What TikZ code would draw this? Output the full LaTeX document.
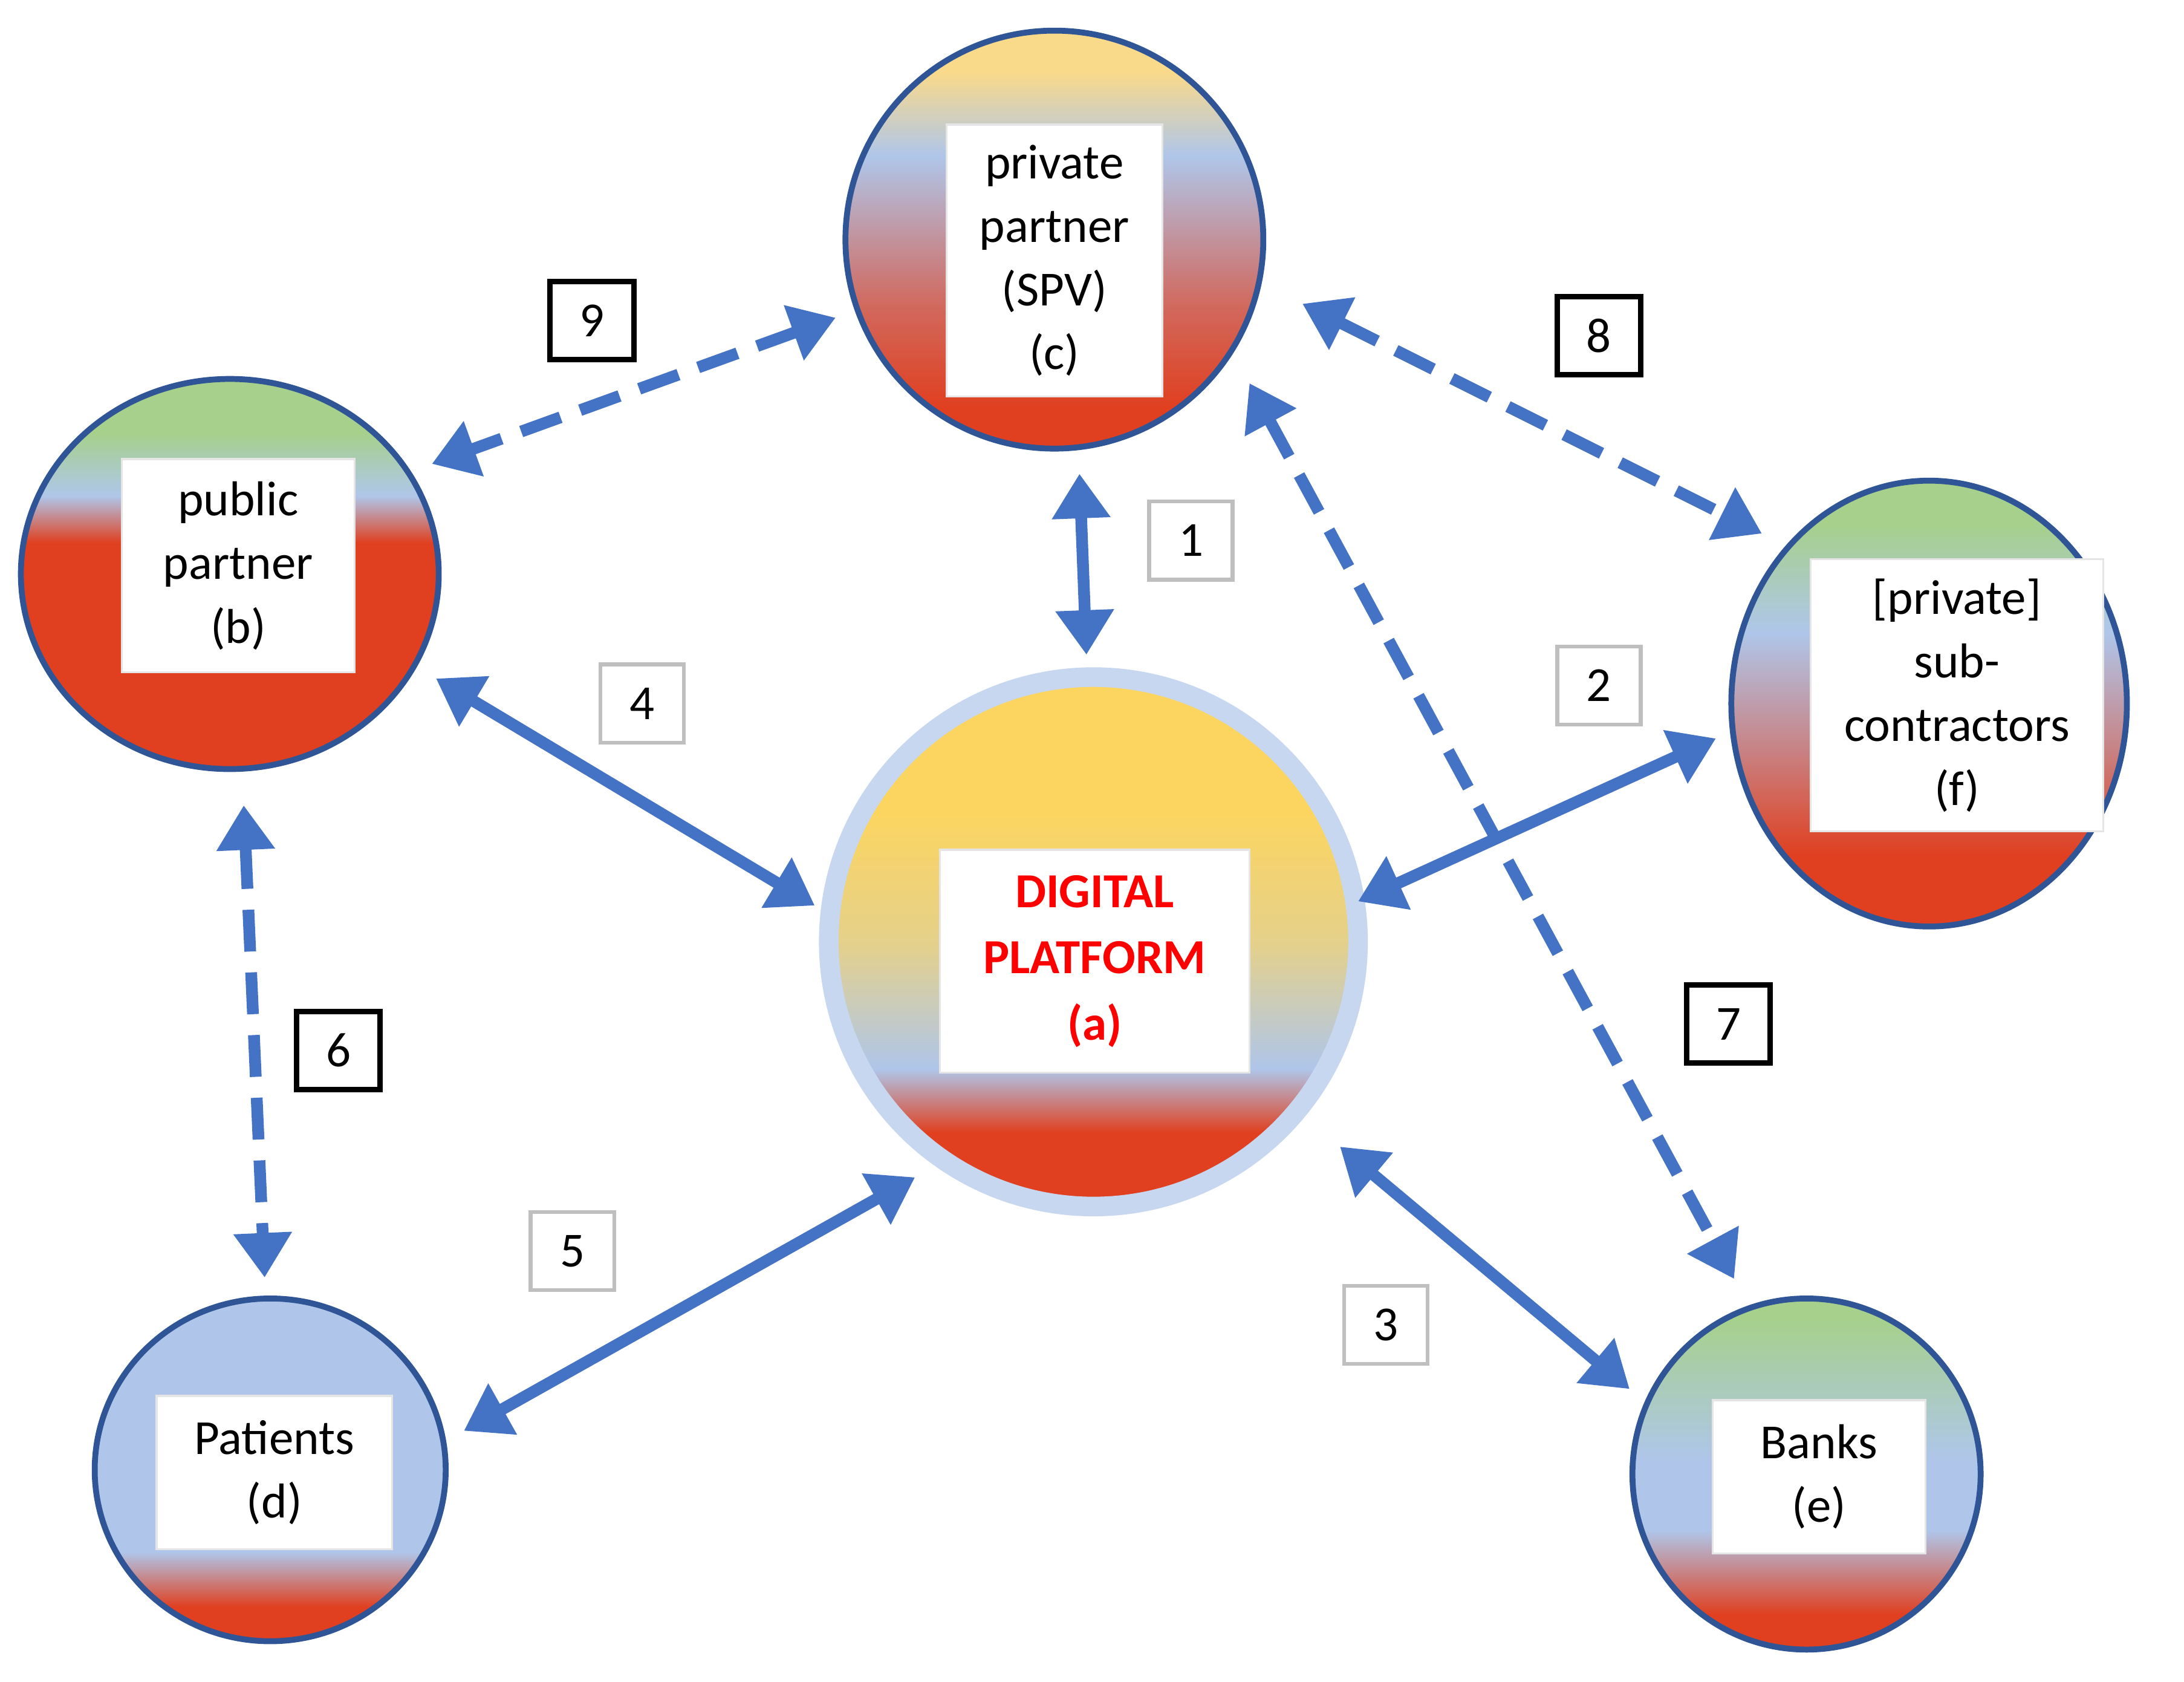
\documentclass[tikz,border=0pt]{standalone}
\usepackage{fontspec}
\setmainfont{Carlito}
\usetikzlibrary{arrows.meta}
\definecolor{yel}{HTML}{F9D98A}
\definecolor{yel2}{HTML}{FCD561}
\definecolor{lb}{HTML}{AFC6EA}
\definecolor{rd}{HTML}{E04020}
\definecolor{gr}{HTML}{A6D08C}
\definecolor{ab}{HTML}{4472C4}
\definecolor{bd}{HTML}{2F5597}
\pgfdeclareverticalshading{shc}{100bp}{color(0bp)=(rd);color(30bp)=(rd);color(42bp)=(rd!70!lb);color(60bp)=(lb);color(70bp)=(yel);color(100bp)=(yel)}
\pgfdeclareverticalshading{shb}{100bp}{color(0bp)=(rd);color(54bp)=(rd);color(60bp)=(lb);color(68bp)=(gr);color(100bp)=(gr)}
\pgfdeclareverticalshading{shf}{100bp}{color(0bp)=(rd);color(33bp)=(rd);color(45bp)=(rd!50!lb);color(58bp)=(lb);color(70bp)=(gr);color(100bp)=(gr)}
\pgfdeclareverticalshading{sha}{100bp}{color(0bp)=(rd);color(32bp)=(rd);color(38bp)=(lb);color(50bp)=(yel2!70!lb);color(62bp)=(yel2);color(100bp)=(yel2)}
\pgfdeclareverticalshading{shd}{100bp}{color(0bp)=(rd);color(30bp)=(rd);color(38bp)=(lb);color(100bp)=(lb)}
\pgfdeclareverticalshading{she}{100bp}{color(0bp)=(rd);color(30bp)=(rd);color(42bp)=(lb);color(52bp)=(lb);color(72bp)=(gr);color(100bp)=(gr)}
\tikzset{
  circ/.style={draw=bd,line width=1.2pt},
  tbox/.style={fill=white,draw=white!90!black,align=center,font=\fontsize{10}{13}\selectfont,inner sep=0pt},
  num/.style={draw=black,line width=1.1pt,fill=white,minimum width=0.6cm,minimum height=0.56cm,font=\fontsize{10}{10}\selectfont},
  numg/.style={num,draw=black!25,line width=0.8pt},
  arr/.style={draw=ab,line width=2.4pt,{Triangle[length=0.32cm,width=0.4cm]}-{Triangle[length=0.32cm,width=0.4cm]}},
  darr/.style={arr,dash pattern=on 0.3cm off 0.15cm}
}
\begin{document}
\begin{tikzpicture}[x=0.01cm,y=-0.01cm]
\useasboundingbox[fill=white] (0,0) rectangle (1568,1207);
\path[circ,shading=shc] (757,172) ellipse [x radius=150,y radius=150];
\path[circ,shading=shb] (165,412) ellipse [x radius=150,y radius=140];
\path[circ,shading=shf] (1385,505) ellipse [x radius=142,y radius=160];
\path[draw=lb!70!white,line width=4pt,shading=sha] (785,676) ellipse [x radius=190,y radius=190];
\path[circ,shading=shd] (194,1055) ellipse [x radius=126,y radius=123];
\path[circ,shading=she] (1297,1058) ellipse [x radius=125,y radius=126];
\node[tbox,minimum width=1.55cm,minimum height=1.95cm] (c) at (757,187) {private\\partner\\(SPV)\\(c)};
\node[tbox,minimum width=1.67cm,minimum height=1.53cm] (b) at (171,406) {public\\partner\\(b)};
\node[tbox,minimum width=2.1cm,minimum height=1.95cm] (f) at (1405,499) {[private]\\sub-\\contractors\\(f)};
\node[tbox,minimum width=2.22cm,minimum height=1.6cm,text=red,font=\fontsize{10}{13.5}\selectfont\bfseries] (a) at (786,690) {DIGITAL\\PLATFORM\\(a)};
\node[tbox,minimum width=1.69cm,minimum height=1.1cm] (d) at (197,1057) {Patients\\(d)};
\node[tbox,minimum width=1.53cm,minimum height=1.1cm] (e) at (1306,1060) {Banks\\(e)};
\foreach \n/\x/\y in {c1/775/340,a1/780/470,c9/600/228,b9/310/333,c8/935/218,f8/1265/383,b4/313/487,a4/585/650,a2/975/647,f2/1232/530,c7/897/275,e7/1245/918,b6/175/578,d6/190/917,d5/333/1027,a5/657/845,a3/962/823,e3/1170/997}
  \coordinate (\n) at (\x,\y);
\draw[arr] (c1) -- (a1);
\draw[darr] (c9) -- (b9);
\draw[darr] (c8) -- (f8);
\draw[arr] (b4) -- (a4);
\draw[arr] (a2) -- (f2);
\draw[darr] (c7) -- (e7);
\draw[darr] (b6) -- (d6);
\draw[arr] (d5) -- (a5);
\draw[arr] (a3) -- (e3);
\node[num] (n9) at (425,230) {9};
\node[numg] (n1) at (855,388) {1};
\node[num] (n8) at (1148,241) {8};
\node[numg] (n4) at (461,505) {4};
\node[numg] (n2) at (1148,492) {2};
\node[num] (n6) at (243,754) {6};
\node[num] (n7) at (1241,735) {7};
\node[numg] (n5) at (411,898) {5};
\node[numg] (n3) at (995,951) {3};
\end{tikzpicture}
\end{document}
